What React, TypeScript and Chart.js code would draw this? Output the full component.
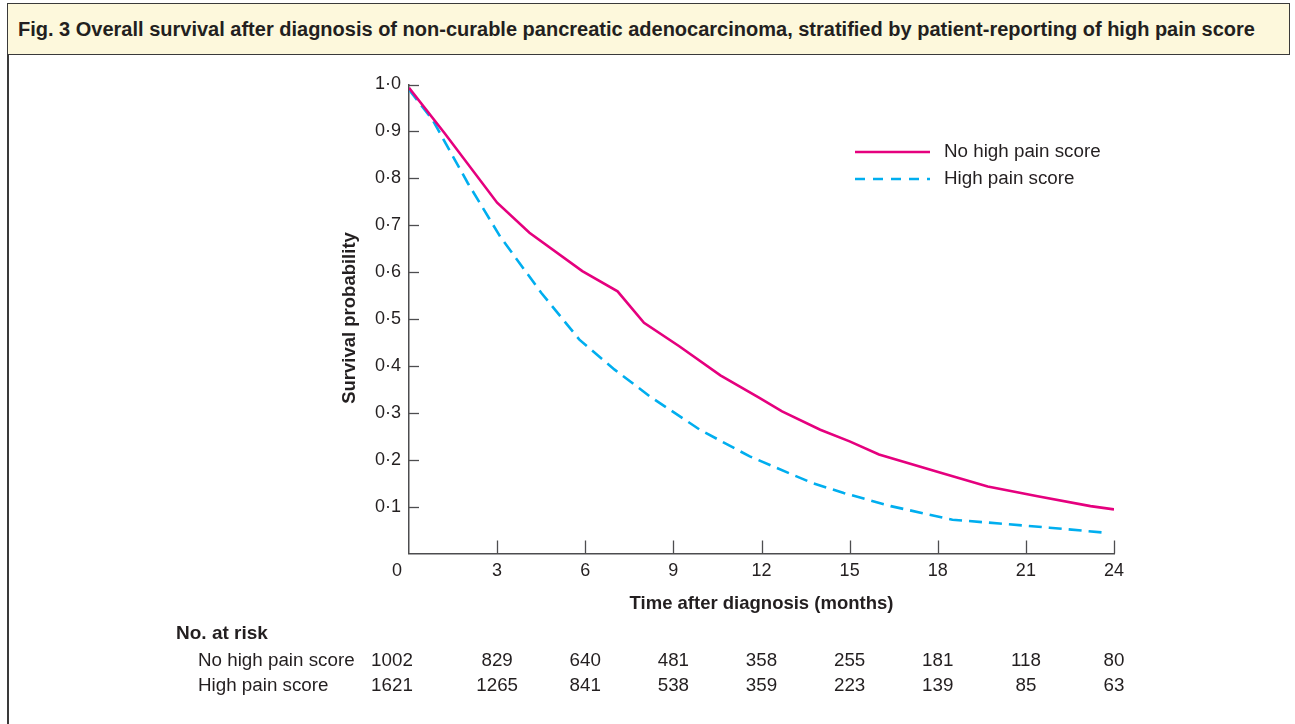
import React, { useEffect, useRef } from 'react';
import { Chart, registerables } from 'chart.js';

Chart.register(...registerables);

const FONT = '"Liberation Sans", Arial, Helvetica, sans-serif';
const TEXT = '#231f20';
const AXIS = '#4d4d4f';
const MAGENTA = '#e5007e';
const CYAN = '#00aeef';

const titleText =
  'Fig. 3 Overall survival after diagnosis of non-curable pancreatic adenocarcinoma, stratified by patient-reporting of high pain score';
const seriesLabels = ['No high pain score', 'High pain score'];
const xAxisTitle = 'Time after diagnosis (months)';
const yAxisTitle = 'Survival probability';
const riskHeading = 'No. at risk';

const noPainMonths = [0, 1.2, 3.0, 4.1, 5.9, 7.1, 8.0, 9.2, 10.6, 11.9, 12.7, 14.0, 15.0, 16.0, 18.1, 19.7, 21.4, 23.2, 24.0];
const noPainSurvival = [0.993, 0.897, 0.748, 0.684, 0.602, 0.559, 0.492, 0.442, 0.38, 0.333, 0.303, 0.264, 0.239, 0.211, 0.172, 0.143, 0.122, 0.101, 0.094];

const painMonths = [0, 0.8, 2.0, 3.1, 4.5, 5.8, 7.0, 8.2, 9.9, 11.6, 13.7, 14.8, 16.4, 18.5, 20.1, 21.8, 23.6];
const painSurvival = [0.989, 0.925, 0.79, 0.676, 0.556, 0.456, 0.392, 0.335, 0.264, 0.207, 0.151, 0.129, 0.101, 0.072, 0.064, 0.055, 0.045];

const xTicks = [0, 3, 6, 9, 12, 15, 18, 21, 24];
const yTicks = [0.1, 0.2, 0.3, 0.4, 0.5, 0.6, 0.7, 0.8, 0.9, 1.0];
const riskNoPain = [1002, 829, 640, 481, 358, 255, 181, 118, 80];
const riskPain = [1621, 1265, 841, 538, 359, 223, 139, 85, 63];

const fmt = (v: number) => v.toFixed(1).replace('.', '\u00b7');

const overlayPlugin = {
  id: 'overlay',
  afterDraw(chart: any) {
    const ctx = chart.ctx as CanvasRenderingContext2D;
    const xs = chart.scales.x;
    const ys = chart.scales.y;
    const left = xs.left;
    const bottom = ys.bottom;
    ctx.save();
    // inside tick marks
    ctx.strokeStyle = AXIS;
    ctx.lineWidth = 1.3;
    yTicks.forEach((v) => {
      const py = Math.round(ys.getPixelForValue(v)) + 0.5;
      ctx.beginPath();
      ctx.moveTo(left, py);
      ctx.lineTo(left + 10, py);
      ctx.stroke();
    });
    xTicks.forEach((v) => {
      if (v === 0) return;
      const px = Math.round(xs.getPixelForValue(v)) + 0.5;
      ctx.beginPath();
      ctx.moveTo(px, bottom);
      ctx.lineTo(px, bottom - 13);
      ctx.stroke();
    });
    // x tick labels
    ctx.fillStyle = TEXT;
    ctx.font = `18px ${FONT}`;
    ctx.textAlign = 'center';
    ctx.textBaseline = 'middle';
    xTicks.forEach((v) => {
      const px = xs.getPixelForValue(v) + (v === 0 ? -12 : 0);
      ctx.fillText(String(v), px, bottom + 18);
    });
    // axis titles
    ctx.font = `bold 18.5px ${FONT}`;
    ctx.fillText(xAxisTitle, (xs.left + xs.right) / 2, bottom + 50);
    ctx.save();
    ctx.translate(350, 318);
    ctx.rotate(-Math.PI / 2);
    ctx.fillText(yAxisTitle, 0, 0);
    ctx.restore();
    // legend
    ctx.lineWidth = 2.5;
    ctx.strokeStyle = MAGENTA;
    ctx.beginPath();
    ctx.moveTo(855, 152);
    ctx.lineTo(930, 152);
    ctx.stroke();
    ctx.strokeStyle = CYAN;
    ctx.setLineDash([10, 8]);
    ctx.beginPath();
    ctx.moveTo(855, 179);
    ctx.lineTo(930, 179);
    ctx.stroke();
    ctx.setLineDash([]);
    ctx.font = `18.8px ${FONT}`;
    ctx.textAlign = 'left';
    ctx.fillText(seriesLabels[0], 944, 152);
    ctx.fillText(seriesLabels[1], 944, 179);
    // risk table
    ctx.font = `bold 19px ${FONT}`;
    ctx.fillText(riskHeading, 176, 634);
    ctx.font = `18.8px ${FONT}`;
    ctx.fillText(seriesLabels[0], 198, 661);
    ctx.fillText(seriesLabels[1], 198, 686);
    ctx.textAlign = 'center';
    xTicks.forEach((v, i) => {
      const px = xs.getPixelForValue(v) + (v === 0 ? -17 : 0);
      ctx.fillText(String(riskNoPain[i]), px, 661);
      ctx.fillText(String(riskPain[i]), px, 686);
    });
    ctx.restore();
  },
};

export default function App() {
  const canvasRef = useRef<HTMLCanvasElement>(null);
  useEffect(() => {
    if (!canvasRef.current) return;
    const chart = new Chart(canvasRef.current, {
      type: 'line',
      data: {
        datasets: [
          {
            label: seriesLabels[0],
            data: noPainMonths.map((m, i) => ({ x: m, y: noPainSurvival[i] })),
            borderColor: MAGENTA,
            borderWidth: 2.6,
            pointRadius: 0,
            tension: 0,
            fill: false,
          },
          {
            label: seriesLabels[1],
            data: painMonths.map((m, i) => ({ x: m, y: painSurvival[i] })),
            borderColor: CYAN,
            borderWidth: 2.6,
            borderDash: [13, 7],
            pointRadius: 0,
            tension: 0,
            fill: false,
          },
        ],
      },
      options: {
        responsive: false,
        animation: false,
        layout: { padding: { left: 0, right: 181, top: 84.5, bottom: 0 } },
        plugins: { legend: { display: false }, tooltip: { enabled: false } },
        scales: {
          x: {
            type: 'linear',
            min: 0,
            max: 24,
            ticks: { display: false },
            grid: { display: false, drawTicks: false },
            border: { display: true, color: AXIS, width: 1.5 },
            afterFit: (s: any) => {
              s.height = 170.5;
            },
          },
          y: {
            type: 'linear',
            min: 0,
            max: 1,
            ticks: {
              stepSize: 0.1,
              padding: 8,
              color: TEXT,
              font: { family: FONT, size: 18 },
              callback: (v: any) => (Number(v) < 0.05 ? '' : fmt(Number(v))),
            },
            grid: { display: false, drawTicks: false },
            border: { display: true, color: AXIS, width: 1.5 },
            afterFit: (s: any) => {
              s.width = 409;
            },
          },
        },
      },
      plugins: [overlayPlugin],
    });
    return () => chart.destroy();
  }, []);

  return (
    <div style={{ position: 'fixed', left: 0, top: 0, width: 1295, height: 724, background: '#fff', overflow: 'hidden' }}>
      <div
        style={{
          position: 'absolute',
          left: 7,
          top: 3,
          width: 1283,
          height: 52,
          boxSizing: 'border-box',
          background: '#fdf8dc',
          border: '1.5px solid #3a3a3a',
          fontFamily: FONT,
          fontWeight: 'bold',
          fontSize: 20,
          color: TEXT,
          display: 'flex',
          alignItems: 'center',
          paddingLeft: 10,
          whiteSpace: 'nowrap',
        }}
      >
        {titleText}
      </div>
      <div style={{ position: 'absolute', left: 7, top: 54, width: 2, height: 670, background: '#3a3a3a' }} />
      <canvas ref={canvasRef} width={1295} height={724} style={{ position: 'absolute', left: 0, top: 0, pointerEvents: 'none' }} />
    </div>
  );
}
